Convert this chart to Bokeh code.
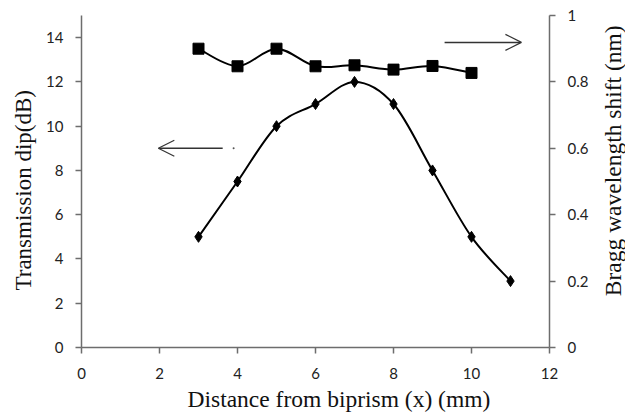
import math

from bokeh.plotting import figure
from bokeh.layouts import row
from bokeh.models import (Range1d, LinearAxis, FixedTicker, CustomJSTickFormatter,
                          Arrow, OpenHead, Title, Label, ColumnDataSource)
from bokeh.embed import file_html
from bokeh.resources import INLINE

# Distance from biprism (mm)
distance_dip = [3, 4, 5, 6, 7, 8, 9, 10, 11]
# Transmission dip (dB), left axis
transmission_dip = [5, 7.5, 10, 11, 12, 11, 8, 5, 3]

distance_shift = [3, 4, 5, 6, 7, 8, 9, 10]
# Bragg wavelength shift (nm), right axis
bragg_shift = [0.90, 0.847, 0.90, 0.847, 0.85, 0.837, 0.848, 0.827]

x_ticks = [0, 2, 4, 6, 8, 10, 12]
left_ticks = [0, 2, 4, 6, 8, 10, 12, 14]
right_ticks = [0, 0.2, 0.4, 0.6, 0.8, 1.0]

AXIS_COLOR = "#6d6d6d"
TICK_FONT = "Lato"
TITLE_FONT = "Liberation Serif"
TITLE_COLOR = "#111111"


def smooth_segments(xs, ys, tension=1.0 / 6.0):
    """Cubic Bezier control points for a smoothed line through the points."""
    n = len(xs)
    x0, y0, x1, y1, cx0, cy0, cx1, cy1 = ([] for _ in range(8))
    for i in range(n - 1):
        xp, yp = (xs[i - 1], ys[i - 1]) if i > 0 else (xs[i], ys[i])
        xn2, yn2 = (xs[i + 2], ys[i + 2]) if i + 2 < n else (xs[i + 1], ys[i + 1])
        x0.append(xs[i]); y0.append(ys[i])
        x1.append(xs[i + 1]); y1.append(ys[i + 1])
        cx0.append(xs[i] + (xs[i + 1] - xp) * tension)
        cy0.append(ys[i] + (ys[i + 1] - yp) * tension)
        cx1.append(xs[i + 1] - (xn2 - xs[i]) * tension)
        cy1.append(ys[i + 1] - (yn2 - ys[i]) * tension)
    return ColumnDataSource(dict(x0=x0, y0=y0, x1=x1, y1=y1,
                                 cx0=cx0, cy0=cy0, cx1=cx1, cy1=cy1))


p = figure(width=598, height=416, output_backend="svg", toolbar_location=None,
           x_range=Range1d(0, 12), y_range=Range1d(0, 15),
           min_border_left=81, min_border_right=49, min_border_top=15,
           min_border_bottom=69)
p.outline_line_color = None
p.xgrid.visible = False
p.ygrid.visible = False
p.background_fill_color = "white"
p.border_fill_color = "white"
p.extra_y_ranges = {"right": Range1d(0, 1)}

right_axis = LinearAxis(y_range_name="right")
p.add_layout(right_axis, "right")

for ax in [p.xaxis[0], p.yaxis[0], right_axis]:
    ax.axis_line_color = AXIS_COLOR
    ax.axis_line_width = 1.5
    ax.major_tick_line_color = AXIS_COLOR
    ax.major_tick_line_width = 1.5
    ax.major_tick_out = 6
    ax.major_tick_in = 0
    ax.minor_tick_line_color = None
    ax.major_label_text_font = TICK_FONT
    ax.major_label_text_font_size = "15px"
    ax.major_label_text_color = "#222222"

p.xaxis[0].ticker = FixedTicker(ticks=x_ticks)
p.yaxis[0].ticker = FixedTicker(ticks=left_ticks)
right_axis.ticker = FixedTicker(ticks=right_ticks)
right_axis.formatter = CustomJSTickFormatter(
    code="return tick.toFixed(1).replace(/\\.0$/, '');")
p.xaxis[0].major_label_standoff = 14
p.yaxis[0].major_label_standoff = 12
right_axis.major_label_standoff = 12

# Smoothed curves through the measured points
dip_src = smooth_segments(distance_dip, transmission_dip)
p.bezier(x0="x0", y0="y0", x1="x1", y1="y1", cx0="cx0", cy0="cy0",
         cx1="cx1", cy1="cy1", source=dip_src, line_color="black", line_width=2)
p.scatter(distance_dip, transmission_dip, marker="diamond", size=11,
          fill_color="black", line_color="black")

shift_src = smooth_segments(distance_shift, bragg_shift)
p.bezier(x0="x0", y0="y0", x1="x1", y1="y1", cx0="cx0", cy0="cy0",
         cx1="cx1", cy1="cy1", source=shift_src, line_color="black",
         line_width=2, y_range_name="right")
p.scatter(distance_shift, bragg_shift, marker="square", size=11,
          fill_color="black", line_color="black", y_range_name="right")

# Arrows pointing to each series' axis
p.add_layout(Arrow(x_start=3.62, y_start=9.0, x_end=1.97, y_end=9.0,
                   line_color="#333333", line_width=1.5,
                   end=OpenHead(size=16, line_color="#333333", line_width=1.2)))
p.scatter([3.9], [9.0], marker="circle", size=2, fill_color="#555555",
          line_color=None)
p.add_layout(Arrow(x_start=9.31, y_start=0.919, x_end=11.28, y_end=0.919,
                   y_range_name="right",
                   line_color="#333333", line_width=1.5,
                   end=OpenHead(size=16, line_color="#333333", line_width=1.2)))


def axis_title(text, offset, size, standoff):
    return Title(text=text, align="left", offset=offset, standoff=standoff,
                 text_font=TITLE_FONT, text_font_size=size,
                 text_font_style="normal", text_color=TITLE_COLOR)


p.add_layout(axis_title("Distance from biprism (x) (mm)", 106, "23.5px", 4), "below")
p.add_layout(axis_title("Transmission dip(dB)", 57, "23px", 15), "left")

# Narrow strip beside the chart carrying the right-hand axis title,
# written bottom to top
side = figure(width=27, height=416, output_backend="svg", toolbar_location=None,
              x_range=Range1d(0, 27), y_range=Range1d(0, 416),
              x_axis_type=None, y_axis_type=None,
              min_border_left=0, min_border_right=0, min_border_top=0,
              min_border_bottom=0)
side.outline_line_color = None
side.xgrid.visible = False
side.ygrid.visible = False
side.background_fill_color = "white"
side.border_fill_color = "white"
side.add_layout(Label(x=14.5, y=234, text="Bragg wavelength shift (nm)",
                      angle=math.pi / 2, text_font=TITLE_FONT,
                      text_font_size="23.5px", text_align="center",
                      text_baseline="middle", text_color=TITLE_COLOR))

layout = row(p, side, spacing=0)

open("out.html", "w").write(file_html(layout, INLINE))
